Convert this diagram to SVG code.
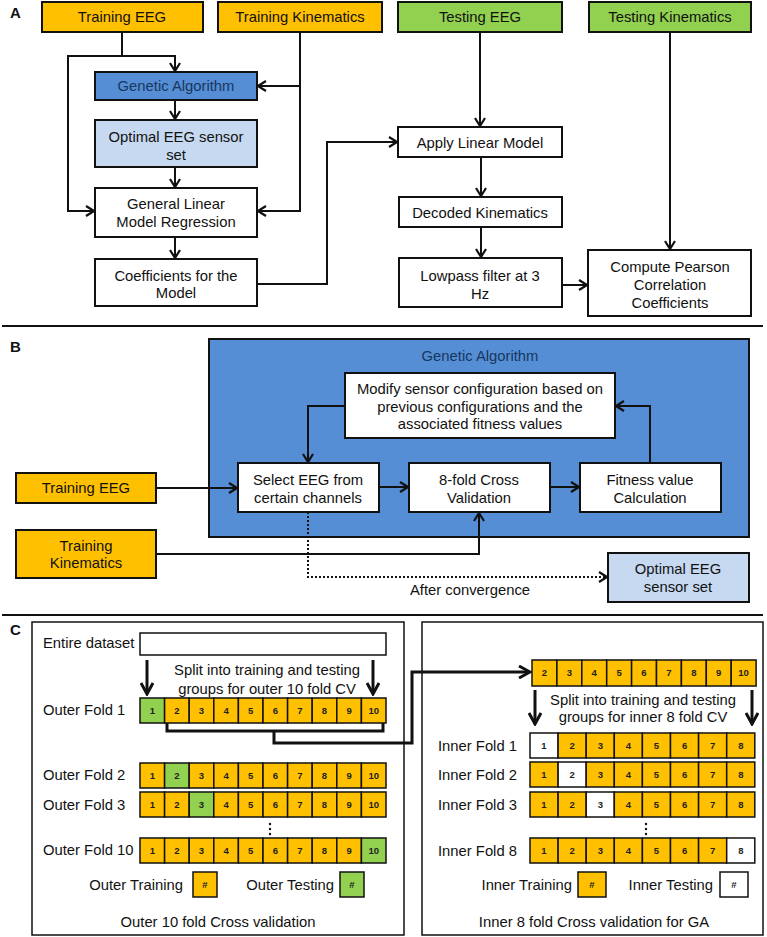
<svg xmlns="http://www.w3.org/2000/svg" width="767" height="937" viewBox="0 0 767 937">
<defs>
<marker id="ah" viewBox="0 0 10 12" refX="9" refY="6" markerWidth="10" markerHeight="12" markerUnits="userSpaceOnUse" orient="auto">
<path d="M1,1 L9,6 L1,11" fill="none" stroke="#111" stroke-width="2.2"/>
</marker>
<marker id="ahb" viewBox="0 0 14 14" refX="12" refY="7" markerWidth="14" markerHeight="14" markerUnits="userSpaceOnUse" orient="auto">
<path d="M1,1 L12,7 L1,13" fill="none" stroke="#111" stroke-width="3"/>
</marker>
</defs>
<style>
text{font-family:"Liberation Sans",Arial,sans-serif;font-size:14.8px;fill:#111}
.c{text-anchor:middle}
.e{text-anchor:end}
.lbl{font-weight:bold;font-size:15px}
.box{stroke:#111;stroke-width:2}
.or{fill:#FFC000}
.gr{fill:#92D050}
.wh{fill:#fff}
.ga{fill:#558ED5}
.lb{fill:#C6D9F1}
.nav{fill:#17375E}
.cell{stroke:#111;stroke-width:1.5}
.n{font-size:9.5px;font-weight:bold;text-anchor:middle;fill:#222}
.ln{fill:none;stroke:#111;stroke-width:2}
.lnb{fill:none;stroke:#111;stroke-width:3}
.sep{stroke:#111;stroke-width:2}
</style>

<!-- Panel labels and separators -->
<text class="lbl" x="10" y="18">A</text>
<text class="lbl" x="10" y="352">B</text>
<text class="lbl" x="10" y="635">C</text>
<line class="sep" x1="2" y1="326" x2="763" y2="326"/>
<line class="sep" x1="2" y1="615" x2="763" y2="615"/>

<!-- Panel A nodes -->
<g id="a-training-eeg"><rect class="box or" x="42" y="2" width="161" height="30"/><text class="c" x="122" y="22">Training EEG</text></g>
<g id="a-training-kin"><rect class="box or" x="218" y="2" width="164" height="30"/><text class="c" x="300" y="22">Training Kinematics</text></g>
<g id="a-testing-eeg"><rect class="box gr" x="398" y="2" width="164" height="30"/><text class="c" x="480" y="22">Testing EEG</text></g>
<g id="a-testing-kin"><rect class="box gr" x="589" y="2" width="162" height="30"/><text class="c" x="670" y="22">Testing Kinematics</text></g>
<g id="a-ga"><rect class="box ga" x="95" y="72" width="162" height="28"/><text class="c nav" x="176" y="91">Genetic Algorithm</text></g>
<g id="a-optimal"><rect class="box lb" x="95" y="120" width="162" height="47"/><text class="c" x="176" y="142">Optimal EEG sensor</text><text class="c" x="176" y="160">set</text></g>
<g id="a-glm"><rect class="box wh" x="95" y="188" width="162" height="49"/><text class="c" x="176" y="209">General Linear</text><text class="c" x="176" y="227">Model Regression</text></g>
<g id="a-coef"><rect class="box wh" x="95" y="259" width="162" height="47"/><text class="c" x="176" y="281">Coefficients for the</text><text class="c" x="176" y="298">Model</text></g>
<g id="a-apply"><rect class="box wh" x="398" y="127" width="164" height="30"/><text class="c" x="480" y="148">Apply Linear Model</text></g>
<g id="a-decoded"><rect class="box wh" x="399" y="197" width="163" height="30"/><text class="c" x="480" y="218">Decoded Kinematics</text></g>
<g id="a-lowpass"><rect class="box wh" x="399" y="258" width="163" height="49"/><text class="c" x="480" y="281">Lowpass filter at 3</text><text class="c" x="480" y="299">Hz</text></g>
<g id="a-pearson"><rect class="box wh" x="588" y="250" width="163" height="66"/><text class="c" x="670" y="272">Compute Pearson</text><text class="c" x="670" y="290">Correlation</text><text class="c" x="670" y="308">Coefficients</text></g>

<!-- Panel B nodes -->
<g id="b-ga"><rect class="box ga" x="209" y="339" width="540" height="198"/><text class="c nav" x="480" y="361">Genetic Algorithm</text></g>
<g id="b-modify"><rect class="box wh" x="345" y="373" width="270" height="65"/><text class="c" x="480" y="394">Modify sensor configuration based on</text><text class="c" x="480" y="412">previous configurations and the</text><text class="c" x="480" y="429">associated fitness values</text></g>
<g id="b-select"><rect class="box wh" x="238" y="463" width="141" height="49"/><text class="c" x="308" y="485">Select EEG from</text><text class="c" x="308" y="503">certain channels</text></g>
<g id="b-cv"><rect class="box wh" x="409" y="463" width="141" height="49"/><text class="c" x="479" y="485">8-fold Cross</text><text class="c" x="479" y="503">Validation</text></g>
<g id="b-fitness"><rect class="box wh" x="580" y="463" width="141" height="49"/><text class="c" x="650" y="485">Fitness value</text><text class="c" x="650" y="503">Calculation</text></g>
<g id="b-training-eeg"><rect class="box or" x="16" y="473" width="140" height="30"/><text class="c" x="86" y="493">Training EEG</text></g>
<g id="b-training-kin"><rect class="box or" x="16" y="530" width="140" height="48"/><text class="c" x="86" y="551">Training</text><text class="c" x="86" y="568">Kinematics</text></g>
<g id="b-optimal"><rect class="box lb" x="608" y="553" width="141" height="49"/><text class="c" x="678" y="574">Optimal EEG</text><text class="c" x="678" y="592">sensor set</text></g>
<text class="c" x="470" y="595">After convergence</text>

<!-- Panel C frames -->
<g id="c-outer">
<rect x="32" y="622" width="372" height="313" fill="#fff" stroke="#111" stroke-width="1.5"/>
<text x="43" y="648">Entire dataset</text>
<rect x="140" y="633" width="246" height="22" fill="#fff" stroke="#111" stroke-width="1.5"/>
<text class="c" x="267" y="675">Split into training and testing</text>
<text class="c" x="267" y="694">groups for outer 10 fold CV</text>
<text x="43" y="715">Outer Fold 1</text>
<text x="43" y="780">Outer Fold 2</text>
<text x="43" y="810">Outer Fold 3</text>
<text x="43" y="855">Outer Fold 10</text>
<circle cx="270" cy="824" r="1.2" fill="#111"/><circle cx="270" cy="829" r="1.2" fill="#111"/><circle cx="270" cy="834" r="1.2" fill="#111"/>
<text class="e" x="183" y="890">Outer Training</text>
<text class="e" x="334" y="890">Outer Testing</text>
<rect class="cell or" x="193" y="872" width="24" height="25"/><text class="n" x="205" y="888">#</text>
<rect class="cell gr" x="340" y="872" width="24" height="25"/><text class="n" x="352" y="888">#</text>
<text class="c" x="218" y="927">Outer 10 fold Cross validation</text>
</g>

<g id="c-inner">
<rect x="422" y="622" width="341" height="313" fill="#fff" stroke="#111" stroke-width="1.5"/>
<text class="c" x="643" y="705">Split into training and testing</text>
<text class="c" x="643" y="722">groups for inner 8 fold CV</text>
<text x="438" y="751">Inner Fold 1</text>
<text x="438" y="780">Inner Fold 2</text>
<text x="438" y="810">Inner Fold 3</text>
<text x="438" y="856">Inner Fold 8</text>
<circle cx="646" cy="824" r="1.2" fill="#111"/><circle cx="646" cy="829" r="1.2" fill="#111"/><circle cx="646" cy="834" r="1.2" fill="#111"/>
<text class="e" x="572" y="890">Inner Training</text>
<text class="e" x="713" y="890">Inner Testing</text>
<rect class="cell or" x="578" y="872" width="28" height="25"/><text class="n" x="592" y="888">#</text>
<rect class="cell wh" x="720" y="872" width="28" height="25"/><text class="n" x="734" y="888">#</text>
<text class="c" x="594" y="927">Inner 8 fold Cross validation for GA</text>
</g>

<!-- Outer fold rows -->
<g id="outer-fold-1">
<rect class="cell gr" x="140" y="698" width="24.6" height="25"/><text class="n" x="152.3" y="714">1</text>
<rect class="cell or" x="164.6" y="698" width="24.6" height="25"/><text class="n" x="176.9" y="714">2</text>
<rect class="cell or" x="189.2" y="698" width="24.6" height="25"/><text class="n" x="201.5" y="714">3</text>
<rect class="cell or" x="213.8" y="698" width="24.6" height="25"/><text class="n" x="226.1" y="714">4</text>
<rect class="cell or" x="238.4" y="698" width="24.6" height="25"/><text class="n" x="250.7" y="714">5</text>
<rect class="cell or" x="263" y="698" width="24.6" height="25"/><text class="n" x="275.3" y="714">6</text>
<rect class="cell or" x="287.6" y="698" width="24.6" height="25"/><text class="n" x="299.9" y="714">7</text>
<rect class="cell or" x="312.2" y="698" width="24.6" height="25"/><text class="n" x="324.5" y="714">8</text>
<rect class="cell or" x="336.8" y="698" width="24.6" height="25"/><text class="n" x="349.1" y="714">9</text>
<rect class="cell or" x="361.4" y="698" width="24.6" height="25"/><text class="n" x="373.7" y="714">10</text>
</g>
<g id="outer-fold-2">
<rect class="cell or" x="140" y="763" width="24.6" height="25"/><text class="n" x="152.3" y="779">1</text>
<rect class="cell gr" x="164.6" y="763" width="24.6" height="25"/><text class="n" x="176.9" y="779">2</text>
<rect class="cell or" x="189.2" y="763" width="24.6" height="25"/><text class="n" x="201.5" y="779">3</text>
<rect class="cell or" x="213.8" y="763" width="24.6" height="25"/><text class="n" x="226.1" y="779">4</text>
<rect class="cell or" x="238.4" y="763" width="24.6" height="25"/><text class="n" x="250.7" y="779">5</text>
<rect class="cell or" x="263" y="763" width="24.6" height="25"/><text class="n" x="275.3" y="779">6</text>
<rect class="cell or" x="287.6" y="763" width="24.6" height="25"/><text class="n" x="299.9" y="779">7</text>
<rect class="cell or" x="312.2" y="763" width="24.6" height="25"/><text class="n" x="324.5" y="779">8</text>
<rect class="cell or" x="336.8" y="763" width="24.6" height="25"/><text class="n" x="349.1" y="779">9</text>
<rect class="cell or" x="361.4" y="763" width="24.6" height="25"/><text class="n" x="373.7" y="779">10</text>
</g>
<g id="outer-fold-3">
<rect class="cell or" x="140" y="792" width="24.6" height="25"/><text class="n" x="152.3" y="808">1</text>
<rect class="cell or" x="164.6" y="792" width="24.6" height="25"/><text class="n" x="176.9" y="808">2</text>
<rect class="cell gr" x="189.2" y="792" width="24.6" height="25"/><text class="n" x="201.5" y="808">3</text>
<rect class="cell or" x="213.8" y="792" width="24.6" height="25"/><text class="n" x="226.1" y="808">4</text>
<rect class="cell or" x="238.4" y="792" width="24.6" height="25"/><text class="n" x="250.7" y="808">5</text>
<rect class="cell or" x="263" y="792" width="24.6" height="25"/><text class="n" x="275.3" y="808">6</text>
<rect class="cell or" x="287.6" y="792" width="24.6" height="25"/><text class="n" x="299.9" y="808">7</text>
<rect class="cell or" x="312.2" y="792" width="24.6" height="25"/><text class="n" x="324.5" y="808">8</text>
<rect class="cell or" x="336.8" y="792" width="24.6" height="25"/><text class="n" x="349.1" y="808">9</text>
<rect class="cell or" x="361.4" y="792" width="24.6" height="25"/><text class="n" x="373.7" y="808">10</text>
</g>
<g id="outer-fold-10">
<rect class="cell or" x="140" y="838" width="24.6" height="25"/><text class="n" x="152.3" y="854">1</text>
<rect class="cell or" x="164.6" y="838" width="24.6" height="25"/><text class="n" x="176.9" y="854">2</text>
<rect class="cell or" x="189.2" y="838" width="24.6" height="25"/><text class="n" x="201.5" y="854">3</text>
<rect class="cell or" x="213.8" y="838" width="24.6" height="25"/><text class="n" x="226.1" y="854">4</text>
<rect class="cell or" x="238.4" y="838" width="24.6" height="25"/><text class="n" x="250.7" y="854">5</text>
<rect class="cell or" x="263" y="838" width="24.6" height="25"/><text class="n" x="275.3" y="854">6</text>
<rect class="cell or" x="287.6" y="838" width="24.6" height="25"/><text class="n" x="299.9" y="854">7</text>
<rect class="cell or" x="312.2" y="838" width="24.6" height="25"/><text class="n" x="324.5" y="854">8</text>
<rect class="cell or" x="336.8" y="838" width="24.6" height="25"/><text class="n" x="349.1" y="854">9</text>
<rect class="cell gr" x="361.4" y="838" width="24.6" height="25"/><text class="n" x="373.7" y="854">10</text>
</g>

<!-- Inner rows -->
<g id="inner-top">
<rect class="cell or" x="532" y="660" width="24.9" height="26"/><text class="n" x="544.4" y="676">2</text>
<rect class="cell or" x="556.9" y="660" width="24.9" height="26"/><text class="n" x="569.3" y="676">3</text>
<rect class="cell or" x="581.8" y="660" width="24.9" height="26"/><text class="n" x="594.2" y="676">4</text>
<rect class="cell or" x="606.7" y="660" width="24.9" height="26"/><text class="n" x="619.1" y="676">5</text>
<rect class="cell or" x="631.6" y="660" width="24.9" height="26"/><text class="n" x="644" y="676">6</text>
<rect class="cell or" x="656.5" y="660" width="24.9" height="26"/><text class="n" x="668.9" y="676">7</text>
<rect class="cell or" x="681.4" y="660" width="24.9" height="26"/><text class="n" x="693.8" y="676">8</text>
<rect class="cell or" x="706.3" y="660" width="24.9" height="26"/><text class="n" x="718.7" y="676">9</text>
<rect class="cell or" x="731.2" y="660" width="24.9" height="26"/><text class="n" x="743.6" y="676">10</text>
</g>
<g id="inner-fold-1">
<rect class="cell wh" x="530" y="733" width="28.1" height="25"/><text class="n" x="544" y="749">1</text>
<rect class="cell or" x="558.1" y="733" width="28.1" height="25"/><text class="n" x="572.2" y="749">2</text>
<rect class="cell or" x="586.2" y="733" width="28.1" height="25"/><text class="n" x="600.3" y="749">3</text>
<rect class="cell or" x="614.3" y="733" width="28.1" height="25"/><text class="n" x="628.4" y="749">4</text>
<rect class="cell or" x="642.4" y="733" width="28.1" height="25"/><text class="n" x="656.5" y="749">5</text>
<rect class="cell or" x="670.5" y="733" width="28.1" height="25"/><text class="n" x="684.6" y="749">6</text>
<rect class="cell or" x="698.6" y="733" width="28.1" height="25"/><text class="n" x="712.7" y="749">7</text>
<rect class="cell or" x="726.7" y="733" width="28.1" height="25"/><text class="n" x="740.8" y="749">8</text>
</g>
<g id="inner-fold-2">
<rect class="cell or" x="530" y="762" width="28.1" height="25"/><text class="n" x="544" y="778">1</text>
<rect class="cell wh" x="558.1" y="762" width="28.1" height="25"/><text class="n" x="572.2" y="778">2</text>
<rect class="cell or" x="586.2" y="762" width="28.1" height="25"/><text class="n" x="600.3" y="778">3</text>
<rect class="cell or" x="614.3" y="762" width="28.1" height="25"/><text class="n" x="628.4" y="778">4</text>
<rect class="cell or" x="642.4" y="762" width="28.1" height="25"/><text class="n" x="656.5" y="778">5</text>
<rect class="cell or" x="670.5" y="762" width="28.1" height="25"/><text class="n" x="684.6" y="778">6</text>
<rect class="cell or" x="698.6" y="762" width="28.1" height="25"/><text class="n" x="712.7" y="778">7</text>
<rect class="cell or" x="726.7" y="762" width="28.1" height="25"/><text class="n" x="740.8" y="778">8</text>
</g>
<g id="inner-fold-3">
<rect class="cell or" x="530" y="792" width="28.1" height="25"/><text class="n" x="544" y="808">1</text>
<rect class="cell or" x="558.1" y="792" width="28.1" height="25"/><text class="n" x="572.2" y="808">2</text>
<rect class="cell wh" x="586.2" y="792" width="28.1" height="25"/><text class="n" x="600.3" y="808">3</text>
<rect class="cell or" x="614.3" y="792" width="28.1" height="25"/><text class="n" x="628.4" y="808">4</text>
<rect class="cell or" x="642.4" y="792" width="28.1" height="25"/><text class="n" x="656.5" y="808">5</text>
<rect class="cell or" x="670.5" y="792" width="28.1" height="25"/><text class="n" x="684.6" y="808">6</text>
<rect class="cell or" x="698.6" y="792" width="28.1" height="25"/><text class="n" x="712.7" y="808">7</text>
<rect class="cell or" x="726.7" y="792" width="28.1" height="25"/><text class="n" x="740.8" y="808">8</text>
</g>
<g id="inner-fold-8">
<rect class="cell or" x="530" y="838" width="28.1" height="25"/><text class="n" x="544" y="854">1</text>
<rect class="cell or" x="558.1" y="838" width="28.1" height="25"/><text class="n" x="572.2" y="854">2</text>
<rect class="cell or" x="586.2" y="838" width="28.1" height="25"/><text class="n" x="600.3" y="854">3</text>
<rect class="cell or" x="614.3" y="838" width="28.1" height="25"/><text class="n" x="628.4" y="854">4</text>
<rect class="cell or" x="642.4" y="838" width="28.1" height="25"/><text class="n" x="656.5" y="854">5</text>
<rect class="cell or" x="670.5" y="838" width="28.1" height="25"/><text class="n" x="684.6" y="854">6</text>
<rect class="cell or" x="698.6" y="838" width="28.1" height="25"/><text class="n" x="712.7" y="854">7</text>
<rect class="cell wh" x="726.7" y="838" width="28.1" height="25"/><text class="n" x="740.8" y="854">8</text>
</g>

<!-- Connectors -->
<g id="connectors">
<path class="ln" d="M122,32 V56 H175 V71" marker-end="url(#ah)"/>
<path class="ln" d="M122,56 H68 V211 H94" marker-end="url(#ah)"/>
<path class="ln" d="M300,32 V211 H258" marker-end="url(#ah)"/>
<path class="ln" d="M300,86 H258" marker-end="url(#ah)"/>
<path class="ln" d="M175,100 V119" marker-end="url(#ah)"/>
<path class="ln" d="M175,167 V187" marker-end="url(#ah)"/>
<path class="ln" d="M175,237 V258" marker-end="url(#ah)"/>
<path class="ln" d="M257,284 H327 V142 H397" marker-end="url(#ah)"/>
<path class="ln" d="M480,32 V126" marker-end="url(#ah)"/>
<path class="ln" d="M481,157 V196" marker-end="url(#ah)"/>
<path class="ln" d="M481,227 V257" marker-end="url(#ah)"/>
<path class="ln" d="M562,285 H587" marker-end="url(#ah)"/>
<path class="ln" d="M670,32 V249" marker-end="url(#ah)"/>

<path class="ln" d="M156,488 H237" marker-end="url(#ah)"/>
<path class="ln" d="M379,487 H408" marker-end="url(#ah)"/>
<path class="ln" d="M550,487 H579" marker-end="url(#ah)"/>
<path class="ln" d="M650,463 V406 H616" marker-end="url(#ah)"/>
<path class="ln" d="M345,406 H308 V462" marker-end="url(#ah)"/>
<path class="ln" d="M156,554 H479 V513" marker-end="url(#ah)"/>
<path class="ln" d="M308,512 V577 H607" stroke-dasharray="2,2" marker-end="url(#ah)"/>

<path class="lnb" d="M147,660 V694" marker-end="url(#ahb)"/>
<path class="lnb" d="M373,660 V694" marker-end="url(#ahb)"/>
<path class="lnb" d="M167,723 V731 H383 V723"/>
<path class="lnb" d="M274,731 V743 H412 V672 H530" marker-end="url(#ahb)"/>
<path class="lnb" d="M535,690 V724" marker-end="url(#ahb)"/>
<path class="lnb" d="M752,690 V724" marker-end="url(#ahb)"/>
</g>
</svg>
